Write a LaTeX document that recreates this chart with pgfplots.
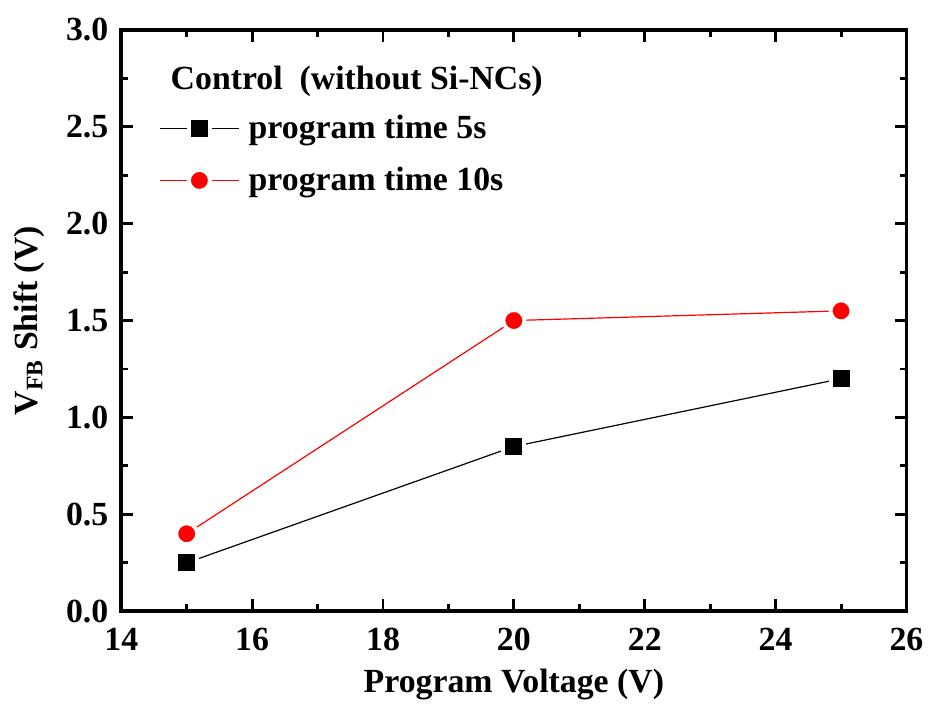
\documentclass[border=0pt]{standalone}
\usepackage{pgfplots}
\pgfplotsset{compat=1.18}
\usepackage{fontspec}
\setmainfont{Liberation Serif}[BoldFont={Liberation Serif Bold}]
\begin{document}
\newcommand{\bigf}{\rmfamily\bfseries\fontsize{17}{20}\selectfont}
\begin{tikzpicture}
\begin{axis}[
  scale only axis,
  width=395pt, height=292.5pt,
  xmin=14, xmax=26, ymin=0, ymax=3,
  xtick={14,16,...,26}, ytick={0,0.5,...,3},
  xticklabels={14,16,18,20,22,24,26},
  yticklabels={0.0,0.5,1.0,1.5,2.0,2.5,3.0},
  minor x tick num=1, minor y tick num=1,
  tick align=inside,
  major tick length=6pt, minor tick length=3.5pt,
  every tick/.style={line width=1.5pt, black},
  axis line style={line width=2pt},
  tick label style={font=\bigf},
  yticklabel style={xshift=-3pt},
  xticklabel style={yshift=-5pt},
  label style={font=\bigf},
  xlabel={Program Voltage (V)},
  ylabel={V\textsubscript{FB} Shift (V)},
  xlabel style={yshift=-2pt},
  ylabel style={yshift=4pt},
  legend style={draw=none, fill=none, at={(0.04,0.868)}, anchor=north west,
    font=\bigf, row sep=9pt, column sep=2.5pt, nodes={inner sep=2pt}},
  legend cell align=left,
  legend image code/.code={
    \draw[mark repeat=2,mark phase=2,#1] plot coordinates {(0pt,0pt)(20pt,0pt)(40pt,0pt)};
  },
]
\addplot[black, line width=0.6pt, mark=square*,
  mark options={fill=black, draw=white, line width=2pt}, mark size=5.25pt]
  coordinates {(15,0.25) (20,0.85) (25,1.2)};
\addlegendentry{program time 5s}
\addplot[red, line width=0.6pt, mark=*,
  mark options={fill=red, draw=white, line width=2pt}, mark size=5.3pt]
  coordinates {(15,0.4) (20,1.5) (25,1.55)};
\addlegendentry{program time 10s}
\node[anchor=west, font=\bigf, inner sep=0pt] at (rel axis cs:0.0625,0.912) {Control\ \ (without Si-NCs)};
\end{axis}
\path[use as bounding box] ([shift={(-58.5pt,-44.5pt)}]current axis.south west) rectangle ([shift={(11.5pt,15pt)}]current axis.north east);
\end{tikzpicture}
\end{document}
